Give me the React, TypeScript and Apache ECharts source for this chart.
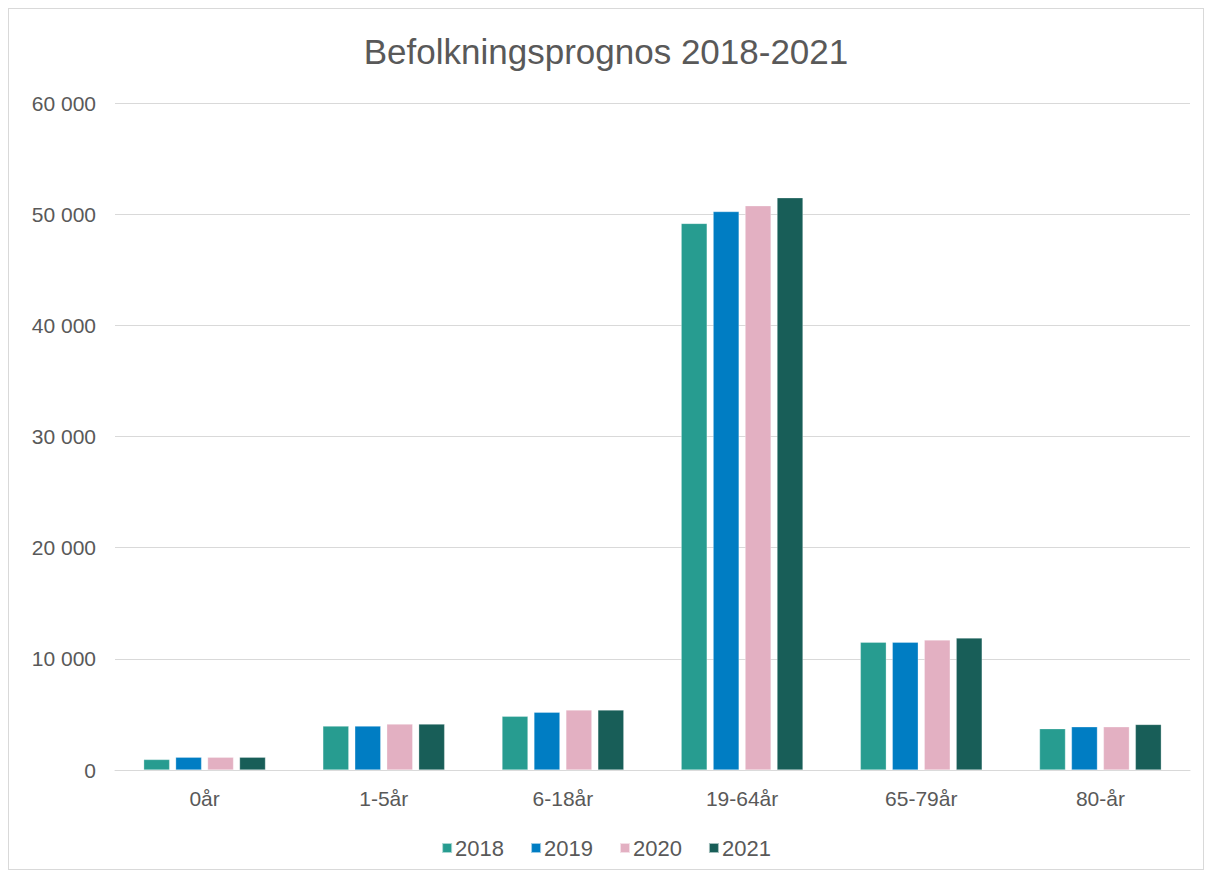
import React, { useEffect, useRef } from "react";
import * as echarts from "echarts";

const categories = ["0år", "1-5år", "6-18år", "19-64år", "65-79år", "80-år"];
const years = ["2018", "2019", "2020", "2021"];
const values2018 = [950, 3950, 4830, 49170, 11500, 3720];
const values2019 = [1150, 3950, 5200, 50240, 11500, 3890];
const values2020 = [1150, 4130, 5400, 50760, 11700, 3890];
const values2021 = [1150, 4130, 5400, 51480, 11880, 4100];
const colors = ["#279C90", "#007DC3", "#E3B0C2", "#185E58"];
const yTicks = { min: 0, max: 60000, interval: 10000 };

const fmt = (v: number) => String(v).replace(/\B(?=(\d{3})+(?!\d))/g, " ");
const FONT = "Liberation Sans, Arial, sans-serif";

export default function App() {
  const ref = useRef<HTMLDivElement>(null);
  useEffect(() => {
    if (!ref.current) return;
    const chart = echarts.init(ref.current, null, { renderer: "svg" });
    const seriesData = [values2018, values2019, values2020, values2021];
    chart.setOption({
      animation: false,
      title: {
        text: "Befolkningsprognos 2018-2021",
        left: "center",
        top: 20,
        textStyle: {
          fontFamily: FONT,
          fontSize: 35,
          fontWeight: "normal",
          color: "#595959",
        },
      },
      legend: {
        data: years,
        top: 823,
        left: "center",
        itemWidth: 10,
        itemHeight: 10,
        itemGap: 26,
        icon: "rect",
        textStyle: {
          fontFamily: FONT,
          fontSize: 22,
          color: "#595959",
          padding: [0, 0, 0, -2],
        },
      },
      grid: { left: 106, right: 13, top: 94, bottom: 99, containLabel: false },
      xAxis: {
        type: "category",
        data: categories,
        axisLine: { lineStyle: { color: "#d9d9d9", width: 1 } },
        axisTick: { show: false },
        axisLabel: {
          margin: 18,
          fontFamily: FONT,
          fontSize: 21,
          color: "#595959",
        },
      },
      yAxis: {
        type: "value",
        min: yTicks.min,
        max: yTicks.max,
        interval: yTicks.interval,
        axisLine: { show: false },
        axisTick: { show: false },
        splitLine: { lineStyle: { color: "#d9d9d9", width: 1 } },
        axisLabel: {
          margin: 19,
          formatter: fmt,
          fontFamily: FONT,
          fontSize: 21,
          color: "#595959",
        },
      },
      series: years.map((y, i) => ({
        name: y,
        type: "bar",
        data: seriesData[i],
        barGap: "23%",
        barCategoryGap: "32%",
        itemStyle: { color: colors[i], borderColor: "rgba(255,255,255,0.6)", borderWidth: 0.5 },
      })),
    });
    return () => chart.dispose();
  }, []);
  return (
    <div
      style={{
        width: 1196,
        height: 862,
        boxSizing: "border-box",
        border: "1px solid #d9d9d9",
        background: "#fff",
      }}
    >
      <div ref={ref} style={{ width: 1194, height: 860 }} />
    </div>
  );
}
